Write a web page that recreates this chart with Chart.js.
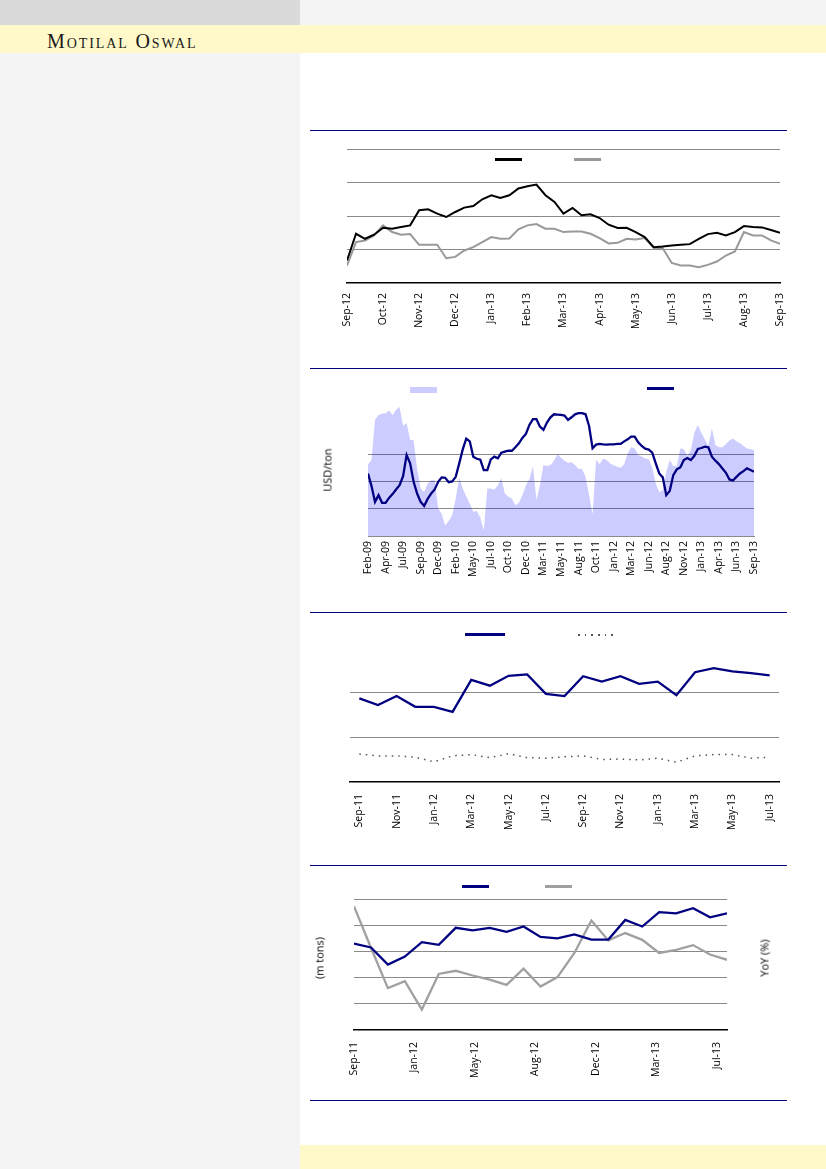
<!DOCTYPE html>
<html>
<head>
<meta charset="utf-8">
<script src="https://cdn.jsdelivr.net/npm/chart.js@4.4.0/dist/chart.umd.min.js"></script>
<style>
body { margin:0; width:826px; height:1169px; position:relative; background:#fff; overflow:hidden; font-family:'Open Sans', sans-serif; }
.blk { position:absolute; }
.rule { position:absolute; left:310px; width:477px; height:1px; background:#000080; }
.leg { position:absolute; height:3px; }
.ytitle { position:absolute; font-size:11px; color:#000; white-space:nowrap; transform:translate(-50%,-50%) rotate(-90deg); }
canvas { position:absolute; }
#brand { position:absolute; left:47px; top:31px; font-family:'Liberation Serif', serif; font-variant:small-caps; font-size:20px; line-height:20px; letter-spacing:1.9px; color:#1a1a1a; }
</style>
</head>
<body>
<div class="blk" style="left:0;top:0;width:300px;height:1169px;background:#f4f4f4"></div>
<div class="blk" style="left:0;top:0;width:300px;height:25px;background:#dadada"></div>
<div class="blk" style="left:300px;top:0;width:526px;height:25px;background:#f4f4f4"></div>
<div class="blk" style="left:0;top:25px;width:826px;height:28px;background:#fff8c8"></div>
<div class="blk" style="left:300px;top:1145px;width:526px;height:24px;background:#fff8c8"></div>
<div id="brand">Motilal Oswal</div>

<div class="rule" style="top:130px"></div>
<div class="rule" style="top:368px"></div>
<div class="rule" style="top:612px"></div>
<div class="rule" style="top:865px"></div>
<div class="rule" style="top:1100px"></div>

<canvas id="c1" width="477" height="198" style="left:310px;top:135px"></canvas>
<canvas id="c2" width="477" height="214" style="left:310px;top:372px"></canvas>
<canvas id="c3" width="477" height="217" style="left:310px;top:615px"></canvas>
<canvas id="c4" width="477" height="215" style="left:310px;top:870px"></canvas>

<!-- legend swatches (legend texts are blank in the source) -->
<div class="leg" style="left:495px;top:158px;width:27px;background:#000"></div>
<div class="leg" style="left:574px;top:158px;width:27px;background:#999"></div>
<div class="leg" style="left:410px;top:387px;width:27px;height:6px;background:#ccccff"></div>
<div class="leg" style="left:647px;top:387px;width:27px;background:#000080"></div>
<div class="leg" style="left:465px;top:633px;width:40px;background:#000080"></div>
<div class="leg" style="left:578px;top:634px;width:40px;height:1.5px;background:repeating-linear-gradient(to right,#555 0 1.5px,transparent 1.5px 6.7px)"></div>
<div class="leg" style="left:462px;top:885px;width:27px;background:#000080"></div>
<div class="leg" style="left:545px;top:885px;width:27px;background:#a0a0a0"></div>

<div class="ytitle" style="left:327px;top:470px">USD/ton</div>
<div class="ytitle" style="left:319px;top:958px">(m tons)</div>
<div class="ytitle" style="left:764px;top:958px">YoY (%)</div>

<script>
// chart 1: two daily series, read roughly 4 points a month
const labels1 = ['Sep-12','Oct-12','Nov-12','Dec-12','Jan-13','Feb-13','Mar-13','Apr-13','May-13','Jun-13','Jul-13','Aug-13','Sep-13'];
const black1 = [86.7, 94.7, 93.2, 94.4, 96.5, 96.2, 96.7, 97.2, 101.7, 102.0,
    100.7, 99.7, 101.2, 102.5, 103.0, 105.0, 106.2, 105.4, 106.2, 108.2,
    108.9, 109.4, 106.2, 104.2, 100.7, 102.4, 100.2, 100.5, 99.4, 97.4,
    96.4, 96.5, 95.2, 93.7, 90.7, 90.9, 91.2, 91.4, 91.6, 93.2,
    94.6, 95.0, 94.2, 95.2, 97.0, 96.7, 96.6, 95.8, 95.0];
const grey1 = [85.2, 92.2, 92.7, 94.2, 97.2, 95.2, 94.4, 94.6, 91.4, 91.4,
    91.4, 87.4, 87.8, 89.7, 90.7, 92.2, 93.7, 93.2, 93.3, 96.0,
    97.2, 97.6, 96.2, 96.2, 95.2, 95.4, 95.4, 94.7, 93.4, 91.8,
    92.0, 93.2, 93.0, 93.4, 90.5, 90.4, 86.0, 85.2, 85.2, 84.7,
    85.4, 86.4, 88.2, 89.4, 95.2, 94.2, 94.2, 92.7, 91.7];

// chart 2: area + price line, two points a month
const labels2 = ['Feb-09','Apr-09','Jul-09','Sep-09','Dec-09','Feb-10','May-10','Jul-10','Oct-10','Dec-10','Mar-11','May-11',
    'Aug-11','Oct-11','Jan-12','Mar-12','Jun-12','Aug-12','Nov-12','Jan-13','Apr-13','Jun-13','Sep-13'];
const price2 = [86.0, 76.7, 65.1, 70.0, 64.4, 64.4, 68.0, 70.8, 74.2, 77.4,
    84.0, 99.5, 93.4, 79.9, 71.2, 65.1, 62.1, 67.3, 71.2, 74.2,
    79.9, 83.1, 82.8, 79.6, 80.1, 83.5, 93.4, 103.7, 111.6, 109.6,
    98.3, 96.8, 96.1, 88.5, 88.5, 96.3, 98.3, 97.1, 101.3, 102.0,
    102.7, 102.7, 105.2, 108.1, 112.1, 115.0, 121.7, 125.9, 125.9, 120.4,
    118.0, 123.4, 127.3, 129.5, 129.3, 129.1, 128.6, 125.4, 127.3, 129.5,
    130.3, 130.3, 129.5, 120.9, 104.5, 107.2, 107.7, 107.4, 107.2, 107.4,
    107.4, 107.7, 107.7, 109.6, 111.1, 113.1, 113.1, 108.9, 106.2, 104.2,
    103.5, 101.3, 93.4, 86.0, 83.1, 70.0, 73.2, 84.8, 89.0, 90.4,
    95.8, 97.3, 95.8, 99.0, 104.0, 104.7, 105.7, 105.2, 98.3, 95.4,
    92.9, 89.7, 86.5, 81.6, 80.8, 83.5, 86.0, 87.7, 89.7, 88.5,
    87.2];
const spread2 = [26.4, 27.9, 42.7, 44.5, 44.9, 45.1, 46.1, 44.5, 46.4, 47.4,
    40.5, 41.5, 35.3, 35.3, 24.8, 17.5, 16.2, 19.3, 20.5, 20.5,
    10.1, 8.1, 3.9, 5.5, 7.6, 13.8, 21.5, 17.5, 14.6, 11.9,
    8.9, 9.2, 6.8, 2.0, 17.5, 17.5, 17.1, 18.7, 21.2, 15.6,
    14.4, 13.8, 11.3, 12.2, 15.0, 18.7, 20.9, 25.7, 13.2, 18.7,
    26.1, 25.7, 26.1, 27.7, 30.1, 28.8, 27.7, 26.9, 27.1, 26.1,
    24.7, 24.6, 21.8, 15.0, 8.0, 28.0, 26.4, 28.4, 27.9, 26.7,
    26.0, 25.5, 25.1, 26.4, 30.4, 32.6, 32.2, 29.8, 29.2, 28.5,
    28.2, 25.2, 19.3, 16.1, 16.9, 23.6, 27.9, 25.7, 25.7, 32.2,
    31.9, 29.4, 31.6, 38.0, 40.8, 38.0, 35.5, 33.1, 39.6, 33.5,
    32.6, 32.6, 33.8, 35.1, 35.8, 34.8, 34.1, 33.1, 32.2, 31.9,
    31.6];

// chart 3: monthly
const months3 = ['Sep-11','Oct-11','Nov-11','Dec-11','Jan-12','Feb-12','Mar-12','Apr-12','May-12','Jun-12','Jul-12','Aug-12',
    'Sep-12','Oct-12','Nov-12','Dec-12','Jan-13','Feb-13','Mar-13','Apr-13','May-13','Jun-13','Jul-13'];
const solid3 = [18.6, 17.1, 19.1, 16.7, 16.7, 15.6, 22.7, 21.4, 23.6, 23.9, 19.6, 19.1,
    23.5, 22.3, 23.5, 21.8, 22.3, 19.3, 24.4, 25.3, 24.6, 24.2, 23.7];
const dotted3 = [6.2, 5.8, 5.8, 5.5, 4.5, 5.8, 6.1, 5.4, 6.3, 5.4, 5.3, 5.6,
    5.8, 5.0, 5.1, 4.9, 5.3, 4.4, 5.8, 6.1, 6.1, 5.3, 5.5];

// chart 4: monthly volumes (m tons) and YoY growth (%)
const labels4 = ['Sep-11','Jan-12','May-12','Aug-12','Dec-12','Mar-13','Jul-13'];
const volume4 = [20.6, 20.3, 19.0, 19.6, 20.7, 20.5, 21.8, 21.6, 21.8, 21.5, 21.9, 21.1,
    21.0, 21.3, 20.9, 20.9, 22.4, 21.9, 23.0, 22.9, 23.3, 22.6, 22.9];
const yoy4 = [13.6, 5.7, -2.0, -0.7, -6.1, 0.7, 1.3, 0.4, -0.4, -1.4, 1.7, -1.7,
    0.1, 4.7, 10.9, 7.1, 8.5, 7.2, 4.7, 5.3, 6.2, 4.4, 3.4];

const FONT = { family: "'Open Sans', sans-serif", size: 10.5 };
const GRID = '#8a8a8a';

Chart.defaults.animation = false;
Chart.defaults.responsive = false;
Chart.defaults.plugins.legend.display = false;
Chart.defaults.plugins.tooltip.enabled = false;
Chart.defaults.elements.point.radius = 0;
Chart.defaults.elements.line.tension = 0;

function pts(arr) {
    return arr.map((v, i) => ({ x: i, y: v }));
}

function rotTicks(pad, cb) {
    return { autoSkip: false, minRotation: 90, maxRotation: 90, padding: pad, color: '#000', font: FONT, callback: cb };
}

// fixed axis height, and no extra side padding for the edge labels
function fixX(h) {
    return s => { s.height = h; s.paddingLeft = 0; s.paddingRight = 0; };
}

function hiddenY(min, max, step, gridColor) {
    return {
        min: min, max: max,
        ticks: { display: false, stepSize: step },
        grid: { color: gridColor, drawTicks: false },
        border: { display: false },
        afterFit: s => { s.width = 0; }
    };
}

new Chart(document.getElementById('c1'), {
    type: 'line',
    data: {
        datasets: [
            { data: pts(black1), borderColor: '#000', borderWidth: 2 },
            { data: pts(grey1), borderColor: '#999', borderWidth: 2 }
        ]
    },
    options: {
        layout: { padding: { left: 37, right: 7, top: 14, bottom: 0 } },
        scales: {
            x: {
                type: 'linear', min: 0, max: 48,
                ticks: Object.assign(rotTicks(10, v => labels1[v / 4]), { stepSize: 4 }),
                grid: { display: false, drawTicks: false },
                border: { color: '#000', width: 1.5 },
                afterFit: fixX(50)
            },
            y: hiddenY(80, 120, 10, c => c.tick.value === 80 ? 'transparent' : GRID)
        }
    }
});

new Chart(document.getElementById('c2'), {
    type: 'line',
    data: {
        datasets: [
            { data: pts(price2), borderColor: '#000080', borderWidth: 2.3, yAxisID: 'y' },
            { data: pts(spread2), borderWidth: 0, backgroundColor: 'rgba(0,0,255,0.2)', fill: 'origin', yAxisID: 'y1' }
        ]
    },
    options: {
        layout: { padding: { left: 58, right: 33, top: 28, bottom: 0 } },
        scales: {
            x: {
                type: 'linear', min: 0, max: 110,
                ticks: Object.assign(rotTicks(5, v => labels2[v / 5]), { stepSize: 5 }),
                grid: { display: false, drawTicks: false },
                border: { color: GRID, width: 1 },
                afterFit: fixX(50)
            },
            y: hiddenY(40, 140, 20, c => (c.tick.value > 40 && c.tick.value < 120) ? GRID : 'transparent'),
            y1: { display: false, min: 0, max: 50 }
        }
    }
});

new Chart(document.getElementById('c3'), {
    type: 'line',
    data: {
        labels: months3,
        datasets: [
            { data: solid3, borderColor: '#000080', borderWidth: 2.3 },
            { data: dotted3, borderColor: '#555', borderWidth: 1.5, borderDash: [1.5, 5] }
        ]
    },
    options: {
        layout: { padding: { left: 40, right: 8, top: 32, bottom: 0 } },
        scales: {
            x: {
                offset: true,
                ticks: rotTicks(12, (v, i) => i % 2 === 0 ? months3[i] : ''),
                grid: { display: false, drawTicks: false },
                border: { color: '#000', width: 1.5 },
                afterFit: fixX(50)
            },
            y: hiddenY(0, 30, 10, c => (c.tick.value > 0 && c.tick.value < 30) ? GRID : 'transparent')
        }
    }
});

new Chart(document.getElementById('c4'), {
    type: 'line',
    data: {
        datasets: [
            { data: pts(volume4), borderColor: '#000080', borderWidth: 2.3, yAxisID: 'y' },
            { data: pts(yoy4), borderColor: '#a0a0a0', borderWidth: 2.3, yAxisID: 'y1' }
        ]
    },
    options: {
        layout: { padding: { left: 44, right: 60, top: 29, bottom: 0 } },
        scales: {
            x: {
                type: 'linear', min: 0, max: 22,
                // labels sit every ~107 days on the source's date axis
                afterBuildTicks: s => { s.ticks = labels4.map((t, k) => ({ value: k * 107 / 30 })); },
                ticks: rotTicks(12, (v, i) => labels4[i]),
                grid: { display: false, drawTicks: false },
                border: { color: '#000', width: 1.5 },
                afterFit: fixX(55)
            },
            y: hiddenY(14, 24, 2, c => c.tick.value === 14 ? 'transparent' : GRID),
            y1: {
                position: 'right', min: -10, max: 15,
                ticks: { display: false, stepSize: 5 },
                grid: { drawOnChartArea: false, drawTicks: false },
                border: { display: false },
                afterFit: s => { s.width = 0; }
            }
        }
    }
});
</script>
</body>
</html>
